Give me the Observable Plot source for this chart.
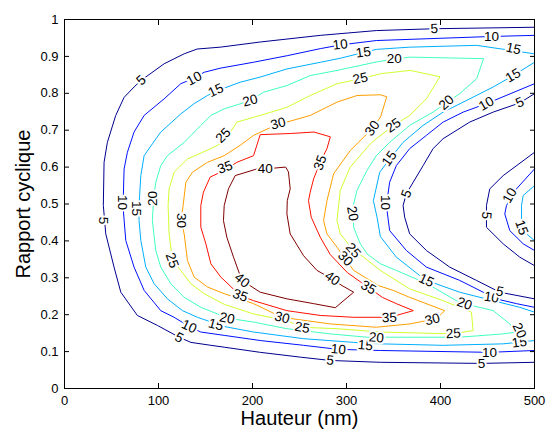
<!DOCTYPE html>
<html>
<head>
<meta charset="utf-8">
<script src="https://cdn.jsdelivr.net/npm/d3@7"></script>
<script src="https://cdn.jsdelivr.net/npm/@observablehq/plot@0.6"></script>
<style>
  html, body { margin: 0; padding: 0; background: #fff; }
</style>
</head>
<body>
<div id="chart"></div>
<script>
// ---- axis ticks ----
const xTicks = [0, 100, 200, 300, 400, 500];
const yTicks = [0, 0.1, 0.2, 0.3, 0.4, 0.5, 0.6, 0.7, 0.8, 0.9, 1];

// ---- contour levels and their jet colours ----
const levels = [5, 10, 15, 20, 25, 30, 35, 40];
const levelColors = ["#00008f", "#0010ff", "#00afff", "#40ffbf", "#cfff30", "#ff9f00", "#ff1000", "#800000"];

// ---- contour paths: [Hauteur (nm), Rapport cyclique] ----
const c5outer = [[500,0.979],[393.5,0.975],[331.7,0.970],[272.1,0.957],[208.2,0.939],[165.6,0.925],[141.1,0.920],[127.3,0.907],[106,0.880],[81.5,0.835],[74,0.817],[63.4,0.789],[54.5,0.740],[45.6,0.667],[42.1,0.613],[41.3,0.496],[43.9,0.419],[52.7,0.329],[59.9,0.261],[77.5,0.198],[98.8,0.171],[121.9,0.139],[134.4,0.125],[155.7,0.117],[169.9,0.112],[208.2,0.098],[250.8,0.085],[282.7,0.076],[336,0.071],[443.6,0.068],[500,0.071]];
const c10outer = [[500,0.957],[454.2,0.954],[331.7,0.943],[293.4,0.931],[272.1,0.921],[237,0.902],[200.7,0.884],[165.6,0.868],[148.6,0.857],[137.9,0.841],[123.7,0.826],[106,0.785],[84.7,0.740],[74,0.695],[66.9,0.640],[63.4,0.595],[62.6,0.523],[62.6,0.482],[65.2,0.401],[74,0.329],[84.7,0.266],[102.4,0.211],[116.6,0.193],[132.6,0.168],[145,0.153],[169.9,0.144],[208.2,0.130],[254.3,0.117],[291.3,0.106],[336,0.103],[452.1,0.098],[500,0.103]];
const c15outer = [[500,0.907],[438.2,0.930],[366.9,0.925],[331.7,0.919],[293.4,0.895],[272.1,0.884],[236.6,0.866],[208.2,0.844],[186.9,0.830],[169.9,0.814],[152.1,0.794],[137.9,0.772],[123.7,0.744],[102.4,0.695],[93.5,0.663],[84.7,0.631],[81.2,0.577],[79.3,0.496],[79.3,0.455],[81.2,0.401],[86.5,0.329],[95.3,0.284],[109.5,0.243],[125.5,0.211],[141.4,0.193],[169.9,0.168],[201.1,0.153],[254.3,0.135],[307.6,0.125],[336,0.121],[402.8,0.117],[466.7,0.121],[500,0.130]];
const c20loop = [[445.4,0.894],[367.2,0.898],[333.9,0.886],[289.9,0.862],[261.4,0.848],[236.6,0.821],[211.7,0.803],[197.6,0.780],[169.9,0.758],[155.7,0.740],[145,0.713],[127.3,0.667],[109.5,0.631],[102.4,0.604],[97.1,0.559],[94.8,0.515],[93.5,0.455],[97.1,0.374],[102.4,0.329],[113.1,0.284],[127.3,0.247],[145,0.220],[162.7,0.202],[172.7,0.191],[201.1,0.180],[236.6,0.162],[282.7,0.148],[321.8,0.139],[367.2,0.139],[420.4,0.139],[466.7,0.148],[480.8,0.153],[473.7,0.175],[456,0.211],[425.5,0.230],[416.9,0.238],[385,0.285],[353,0.320],[336,0.338],[321.8,0.365],[314.7,0.392],[307.6,0.437],[307.2,0.496],[311.2,0.537],[321.8,0.591],[331.7,0.631],[345.9,0.667],[367.2,0.713],[392.1,0.749],[406.3,0.774],[420.4,0.799],[438.2,0.839]];
const c25loop = [[399.2,0.844],[385,0.785],[367.2,0.740],[350.2,0.713],[331.7,0.677],[325.3,0.663],[304,0.600],[293.4,0.537],[291.6,0.496],[289.9,0.455],[293.4,0.419],[307.6,0.374],[318.2,0.356],[336,0.320],[367.2,0.270],[402.8,0.238],[432.9,0.207],[434.7,0.157],[413.4,0.148],[336,0.153],[289.9,0.162],[252.6,0.166],[236.6,0.184],[201.1,0.202],[169.9,0.228],[148.6,0.257],[134.4,0.284],[123.7,0.320],[114.8,0.347],[111.3,0.419],[110.2,0.496],[111.3,0.541],[116.6,0.586],[130.8,0.622],[155.7,0.650],[169.9,0.669],[183.4,0.722],[208.2,0.740],[236.6,0.762],[261.4,0.794],[289.9,0.826],[314.7,0.839],[336,0.853],[367.2,0.862]];
const c30loop = [[342.4,0.791],[336,0.796],[311.2,0.794],[289.9,0.776],[261.4,0.740],[236.6,0.722],[227.4,0.717],[201.1,0.686],[186.9,0.659],[169.9,0.631],[152.1,0.613],[136.1,0.586],[129.1,0.559],[126.2,0.496],[124.1,0.455],[127.3,0.419],[130.8,0.347],[137.9,0.302],[152.1,0.275],[169.9,0.257],[201.1,0.230],[231.3,0.193],[282.7,0.175],[331.7,0.166],[367.2,0.175],[395.6,0.189],[404.5,0.211],[367.2,0.247],[349.5,0.266],[333.9,0.279],[307.6,0.320],[298.7,0.352],[289.9,0.383],[279.2,0.419],[275.6,0.455],[279.2,0.509],[286.3,0.582],[304,0.645],[327.2,0.704],[336,0.735]];
const c35loop = [[265,0.695],[240.1,0.691],[208.2,0.688],[201.1,0.631],[183.4,0.613],[169.9,0.591],[155,0.573],[147.8,0.532],[145,0.496],[145,0.437],[150.4,0.392],[155.7,0.338],[166.3,0.302],[186.9,0.252],[201.1,0.238],[236.6,0.211],[272.1,0.198],[307.6,0.193],[345.9,0.193],[371.1,0.211],[353,0.230],[338.1,0.247],[323.2,0.274],[300.9,0.314],[282.7,0.363],[272.1,0.410],[262.5,0.464],[259.6,0.509],[261.4,0.532],[265,0.568],[272.1,0.613],[279.2,0.650],[282.7,0.681]];
const c40loop = [[234.8,0.600],[213.5,0.595],[204.7,0.595],[181.6,0.577],[174.4,0.541],[169.9,0.496],[169.1,0.455],[172.7,0.410],[179.8,0.356],[188.7,0.293],[208.2,0.261],[236.6,0.243],[265,0.230],[288.1,0.219],[307.6,0.261],[295.2,0.279],[284.6,0.297],[268.6,0.320],[254.3,0.360],[240.1,0.419],[236.6,0.473],[237,0.509],[240.1,0.541],[238.3,0.586]];
const c15right = [[500,0.884],[477.3,0.848],[456,0.817],[431.1,0.785],[402.8,0.749],[381.5,0.713],[360.2,0.667],[345.9,0.622],[335.3,0.586],[328.6,0.509],[332.5,0.464],[336,0.412],[353,0.356],[377.9,0.306],[385,0.293],[420.4,0.261],[456,0.238],[484.3,0.220],[500,0.207]];
const c10right = [[500,0.826],[448.9,0.772],[424.1,0.749],[402.8,0.722],[385,0.686],[367.2,0.650],[353,0.604],[345.9,0.559],[342.4,0.496],[345.9,0.428],[363.7,0.374],[385,0.329],[420.4,0.293],[445.4,0.261],[454.2,0.246],[480.8,0.230],[500,0.220]];
const c5right = [[500,0.799],[484.3,0.774],[456,0.749],[431.1,0.722],[402.8,0.677],[392.1,0.650],[381.5,0.604],[363.7,0.528],[360.2,0.496],[361.9,0.464],[367.2,0.419],[385,0.374],[409.8,0.329],[438.2,0.293],[463,0.261],[500,0.243]];
const c5edge = [[500,0.640],[466.7,0.577],[452.4,0.541],[448.9,0.496],[448.9,0.437],[466.7,0.392],[484.3,0.356],[500,0.333]];
const c10edge = [[500,0.595],[480.8,0.541],[470.2,0.496],[468.4,0.473],[473.7,0.428],[488,0.392],[500,0.374]];
const c15edge = [[500,0.550],[488,0.523],[486.2,0.496],[486.2,0.437],[491.5,0.419],[500,0.401]];

// ---- inline contour labels: [x, y, text, rotation in degrees] ----
const contourLabels = [
  [81.5,0.835,"5",-42],[393.5,0.975,"5",-3],[41,0.455,"5",90],[121.9,0.138,"5",28],[282.7,0.076,"5",6],[443.6,0.068,"5",0],
  [137.9,0.840,"10",-28],[293.4,0.932,"10",-7],[454.2,0.954,"10",0],[61.2,0.504,"10",90],[132.6,0.168,"10",25],[291.3,0.106,"10",5],[452.1,0.098,"10",0],
  [161,0.808,"15",-25],[317.9,0.911,"15",-8],[477.6,0.921,"15",12],[76.1,0.488,"15",90],[161,0.173,"15",15],[320,0.117,"15",5],[484,0.125,"15",-8],
  [477.3,0.848,"15",-30],[345.6,0.623,"15",-55],[385,0.293,"15",25],
  [448.9,0.772,"10",-30],[341.3,0.504,"10",90],[454.2,0.247,"10",8],
  [484.3,0.775,"5",-25],[363.7,0.528,"5",-70],[463,0.263,"5",12],
  [448.9,0.469,"5",95],[473.7,0.523,"10",-60],[486.2,0.436,"15",70],
  [197.6,0.780,"20",-15],[350.8,0.894,"20",0],[406.3,0.775,"20",-42],[94.1,0.515,"20",-90],[173,0.190,"20",12],[331.7,0.138,"20",5],[425.5,0.230,"20",20],[484,0.157,"20",65],[306.4,0.474,"20",80],
  [168.8,0.686,"25",-45],[314.7,0.840,"25",-12],[349.8,0.713,"25",-35],[114.5,0.347,"25",70],[252.9,0.165,"25",10],[413.7,0.149,"25",-3],[307.2,0.374,"25",50],
  [227.4,0.718,"30",-15],[327.5,0.705,"30",-55],[124.1,0.455,"30",90],[231.6,0.192,"30",15],[391.4,0.187,"30",-15],[298.7,0.352,"30",45],
  [170.9,0.599,"35",-20],[272.1,0.612,"35",-70],[186.9,0.252,"35",20],[345.6,0.192,"35",-2],[323.2,0.274,"35",30],
  [213.5,0.596,"40",0],[189,0.293,"40",40],[284.9,0.298,"40",35]
];

const xTitle = "Hauteur (nm)";
const yTitle = "Rapport cyclique";

// ---- tables for the library ----
const openPaths = [[5, c5outer], [10, c10outer], [15, c15outer], [15, c15right], [10, c10right], [5, c5right], [5, c5edge], [10, c10edge], [15, c15edge]];
const closedPaths = [[20, c20loop], [25, c25loop], [30, c30loop], [35, c35loop], [40, c40loop]];
const toRows = (paths) => paths.flatMap(([level, pts], id) => pts.map(([x, y]) => ({id, level, x, y})));
const openRows = toRows(openPaths);
const closedRows = toRows(closedPaths);
const labelRows = contourLabels.map(([x, y, text, angle]) => ({x, y, text, angle}));

const font = "'Liberation Sans', Arial, Helvetica, sans-serif";

const chart = Plot.plot({
  width: 547,
  height: 430,
  marginLeft: 64,
  marginRight: 13,
  marginTop: 19,
  marginBottom: 42,
  style: {fontFamily: font, fontSize: "13px", background: "#ffffff", color: "#000000", overflow: "visible"},
  x: {domain: [0, 500]},
  y: {domain: [0, 1]},
  color: {domain: levels, range: levelColors},
  marks: [
    Plot.line(openRows, {x: "x", y: "y", z: "id", stroke: "level", strokeWidth: 1, curve: "linear"}),
    Plot.line(closedRows, {x: "x", y: "y", z: "id", stroke: "level", strokeWidth: 1, curve: "linear-closed"}),
    Plot.text(labelRows, {x: "x", y: "y", text: "text", rotate: "angle", fill: "#000", stroke: "#fff", strokeWidth: 4, fontSize: 13.5}),
    Plot.frame({stroke: "#000", strokeWidth: 1}),
    Plot.axisX({anchor: "bottom", ticks: xTicks, tickSize: 0, tickPadding: 7, tickFormat: d => String(d), label: null, fontSize: 13}),
    Plot.axisX({anchor: "bottom", ticks: xTicks, tickSize: 5, dy: -5, tickFormat: () => "", label: null}),
    Plot.axisX({anchor: "top", ticks: xTicks, tickSize: 5, dy: 5, tickFormat: () => "", label: null}),
    Plot.axisY({anchor: "left", ticks: yTicks, tickSize: 0, tickPadding: 6, tickFormat: d => String(d), label: null, fontSize: 13}),
    Plot.axisY({anchor: "left", ticks: yTicks, tickSize: 5, dx: 5, tickFormat: () => "", label: null}),
    Plot.axisY({anchor: "right", ticks: yTicks, tickSize: 5, dx: -5, tickFormat: () => "", label: null}),
    Plot.text([xTitle], {frameAnchor: "bottom", textAnchor: "middle", lineAnchor: "middle", dy: 30, fontSize: 20, fill: "#000"}),
    Plot.text([yTitle], {frameAnchor: "left", textAnchor: "middle", lineAnchor: "middle", dx: -41, rotate: -90, fontSize: 20, fill: "#000"})
  ]
});

document.getElementById("chart").appendChild(chart);
</script>
</body>
</html>
